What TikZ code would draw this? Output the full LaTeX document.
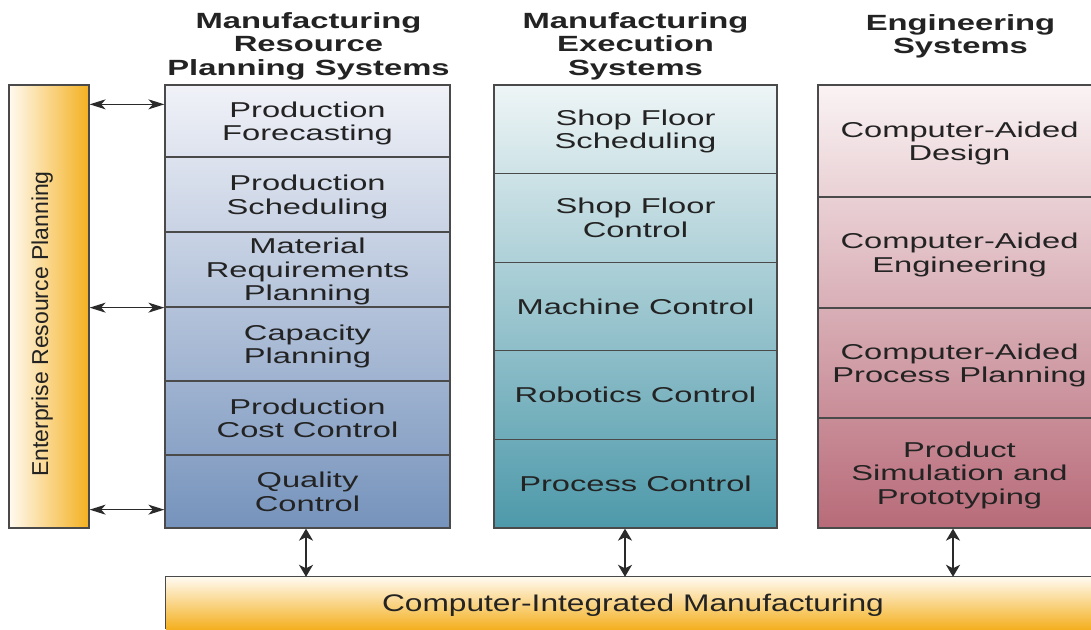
\documentclass[tikz,border=0pt]{standalone}
\usepackage{fontspec}
\usetikzlibrary{arrows.meta}
\newfontfamily\hdfont{Liberation Sans}[FakeStretch=1.49]
\newfontfamily\bodyfont{Liberation Sans}[FakeStretch=1.52]
\newfontfamily\cimfont{Liberation Sans}[FakeStretch=1.32]
\newfontfamily\erpfont{Liberation Sans}
\definecolor{bordc}{HTML}{4A4A4A}
\definecolor{txt}{HTML}{232323}
\definecolor{arrc}{HTML}{2A2A2A}
\definecolor{orL}{HTML}{FFFAF0}
\definecolor{orM}{HTML}{FBDBA0}
\definecolor{orR}{HTML}{F4B020}
\definecolor{blT}{HTML}{F1F2F8}
\definecolor{blB}{HTML}{7693BC}
\definecolor{tlT}{HTML}{EEF5F6}
\definecolor{tlB}{HTML}{4D99AA}
\definecolor{rsT}{HTML}{FAF3F4}
\definecolor{rsB}{HTML}{B86B79}
\tikzset{
  cell/.style={draw=bordc, line width=1.3pt, inner sep=0pt, align=center, text=txt,
    text depth=0pt, font=\bodyfont\fontsize{21.5}{23.5}\selectfont},
  cellL/.style={cell, minimum width=285pt},
  cellM/.style={cell, minimum width=283pt},
  cellR/.style={cell, minimum width=283pt},
  header/.style={anchor=north, inner sep=0pt, align=center, text=txt,
    font=\hdfont\bfseries\fontsize{22}{23.5}\selectfont},
  harrow/.style={draw=arrc, line width=1.2pt,
    {Stealth[length=16pt,width=10pt,inset=4.5pt]}-{Stealth[length=16pt,width=10pt,inset=4.5pt]}},
  varrow/.style={draw=arrc, line width=1.8pt,
    {Stealth[length=12pt,width=14pt,inset=3.5pt]}-{Stealth[length=12pt,width=14pt,inset=3.5pt]}},
}
\begin{document}
\begin{tikzpicture}[x=1pt,y=1pt]
\path[use as bounding box] (0,0) rectangle (1091,-629);
\clip (0,0) rectangle (1091,-629);
\fill[white] (0,0) rectangle (1091,-629);

% headers
\node[header] (h1) at (308.5,-12) {Manufacturing\\Resource\\Planning Systems};
\node[header] (h2) at (635.5,-12) {Manufacturing\\Execution\\Systems};
\node[header] (h3) at (960.5,-14) {Engineering\\Systems};

% ERP bar
\node[draw=bordc, line width=1.3pt, minimum width=80pt, minimum height=443pt, inner sep=0pt,
  left color=orL, middle color=orM, right color=orR] (erp) at (49,-306.5) {};
\node[rotate=90, anchor=base, inner sep=0pt, text=txt, font=\erpfont\fontsize{23}{23}\selectfont]
  (erpt) at (48,-324) {Enterprise Resource Planning};

% column backgrounds
\shade[top color=blT, bottom color=blB] (165,-85) rectangle (450,-528);
\shade[top color=tlT, bottom color=tlB] (494,-85) rectangle (777,-528);
\shade[top color=rsT, bottom color=rsB] (818,-85) rectangle (1101,-528);

% left column
\node[cellL, minimum height=72pt] (pf)  at (307.5,-121)   {Production\\Forecasting};
\node[cellL, minimum height=75pt] (ps)  at (307.5,-194.5) {Production\\Scheduling};
\node[cellL, minimum height=75pt] (mrp) at (307.5,-269.5) {Material\\Requirements\\Planning};
\node[cellL, minimum height=74pt] (cap) at (307.5,-344)   {Capacity\\Planning};
\node[cellL, minimum height=74pt] (pcc) at (307.5,-418)   {Production\\Cost Control};
\node[cellL, minimum height=73pt] (qc)  at (307.5,-491.5) {Quality\\Control};

% middle column
\node[cellM, minimum height=88.6pt] (sfs) at (635.5,-129.3) {Shop Floor\\Scheduling};
\node[cellM, minimum height=88.6pt] (sfc) at (635.5,-217.9) {Shop Floor\\Control};
\node[cellM, minimum height=88.6pt] (mc)  at (635.5,-306.5) {Machine Control};
\node[cellM, minimum height=88.6pt] (rc)  at (635.5,-395.1) {Robotics Control};
\node[cellM, minimum height=88.6pt] (pc)  at (635.5,-483.7) {Process Control};

% right column
\node[cellR, minimum height=112pt] (cad)  at (959.5,-141)   {Computer-Aided\\Design};
\node[cellR, minimum height=111pt] (cae)  at (959.5,-252.5) {Computer-Aided\\Engineering};
\node[cellR, minimum height=110pt] (capp) at (959.5,-363)   {Computer-Aided\\Process Planning};
\node[cellR, minimum height=110pt] (pst)  at (959.5,-473)   {Product\\Simulation and\\Prototyping};

% CIM bar
\node[inner sep=0pt, minimum width=934pt, minimum height=52pt, text depth=0pt,
  top color=orL, middle color=orM, bottom color=orR, text=txt,
  font=\cimfont\fontsize{24}{24}\selectfont] (cim) at (633,-603) {Computer-Integrated Manufacturing};
\draw[draw=bordc, line width=1.3pt] (cim.south west) -- (cim.north west) -- (cim.north east);

% horizontal connectors
\draw[harrow] ([yshift=-20pt]erp.north east) -- ([yshift=-20pt]pf.north west);
\draw[harrow] (erp.east |- mrp.south) -- (mrp.south west);
\draw[harrow] ([yshift=19pt]erp.south east) -- ([yshift=19pt]qc.south west);

% vertical connectors
\draw[varrow] ([xshift=-1.5pt]qc.south) -- ([xshift=-1.5pt]qc.south |- cim.north);
\draw[varrow] ([xshift=-10.5pt]pc.south) -- ([xshift=-10.5pt]pc.south |- cim.north);
\draw[varrow] ([xshift=-6.5pt]pst.south) -- ([xshift=-6.5pt]pst.south |- cim.north);
\end{tikzpicture}
\end{document}
